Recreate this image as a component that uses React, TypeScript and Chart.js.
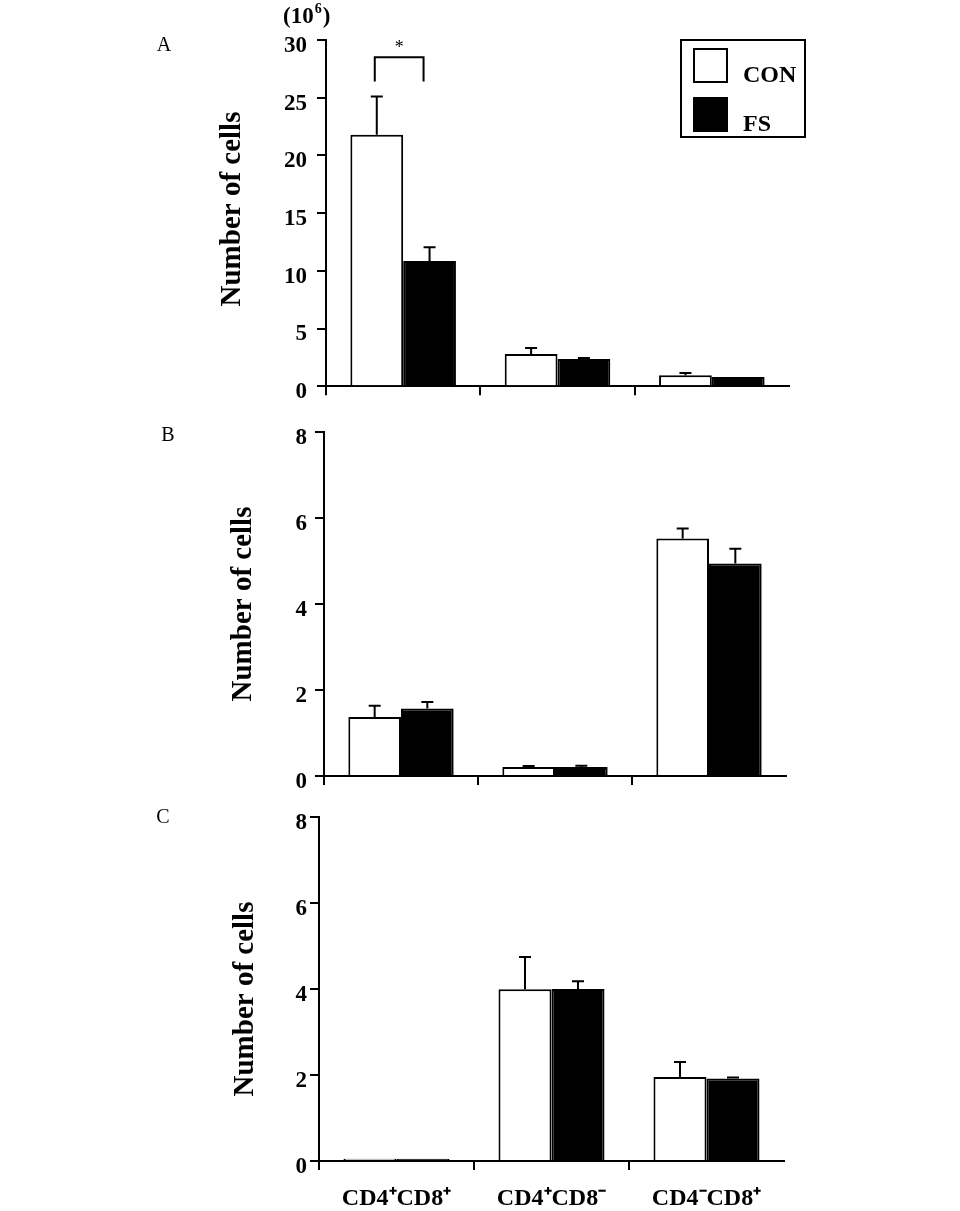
import React, { useEffect, useRef } from "react";
import { Chart, registerables } from "chart.js";

Chart.register(...registerables);

// ---------- data ----------
const categories = ["CD4⁺CD8⁺", "CD4⁺CD8⁻", "CD4⁻CD8⁺"];
const seriesNames = ["CON", "FS"];

const panelA_CON = [21.8, 2.8, 0.95];
const panelA_CON_err = [3.3, 0.5, 0.2];
const panelA_FS = [10.85, 2.35, 0.8];
const panelA_FS_err = [1.2, 0.1, 0.0];

const panelB_CON = [1.37, 0.21, 5.52];
const panelB_CON_err = [0.26, 0.02, 0.23];
const panelB_FS = [1.57, 0.21, 4.94];
const panelB_FS_err = [0.15, 0.03, 0.34];

const panelC_CON = [0.05, 3.99, 1.95];
const panelC_CON_err = [0.0, 0.75, 0.35];
const panelC_FS = [0.05, 4.0, 1.92];
const panelC_FS_err = [0.0, 0.18, 0.02];

const yMaxA = 30;
const yStepA = 5;
const yMaxBC = 8;
const yStepBC = 2;

const panelLetters = ["A", "B", "C"];
const yAxisTitle = "Number of cells";
const unitBase = "(10";
const unitExp = "6";
const unitClose = ")";
const sigMark = "*";
const sigTop = 28.5;
const sigLeg = 26.4;

// ---------- layout ----------
const FONT = '"Liberation Serif", "Times New Roman", serif';
const W = 960;

type Panel = {
  top: number;
  height: number;
  area: { left: number; right: number; top: number; bottom: number };
  con: number[];
  conErr: number[];
  fs: number[];
  fsErr: number[];
  yMax: number;
  yStep: number;
  tickPad: number;
  letter: string;
  letterPos: [number, number];
  titlePos: [number, number];
  showX: boolean;
  legend: boolean;
  sig: boolean;
};

const panels: Panel[] = [
  {
    top: 0,
    height: 410,
    area: { left: 326, right: 789, top: 40, bottom: 388 },
    con: panelA_CON,
    conErr: panelA_CON_err,
    fs: panelA_FS,
    fsErr: panelA_FS_err,
    yMax: yMaxA,
    yStep: yStepA,
    tickPad: 10,
    letter: panelLetters[0],
    letterPos: [164, 46],
    titlePos: [233, 209],
    showX: false,
    legend: true,
    sig: true,
  },
  {
    top: 410,
    height: 390,
    area: { left: 324, right: 786, top: 17, bottom: 366 },
    con: panelB_CON,
    conErr: panelB_CON_err,
    fs: panelB_FS,
    fsErr: panelB_FS_err,
    yMax: yMaxBC,
    yStep: yStepBC,
    tickPad: 8,
    letter: panelLetters[1],
    letterPos: [168, 26],
    titlePos: [244, 194],
    showX: false,
    legend: false,
    sig: false,
  },
  {
    top: 800,
    height: 411,
    area: { left: 319, right: 784, top: 13, bottom: 361 },
    con: panelC_CON,
    conErr: panelC_CON_err,
    fs: panelC_FS,
    fsErr: panelC_FS_err,
    yMax: yMaxBC,
    yStep: yStepBC,
    tickPad: 3,
    letter: panelLetters[2],
    letterPos: [163, 18],
    titlePos: [246, 199],
    showX: true,
    legend: false,
    sig: false,
  },
];

function makeConfig(p: Panel): any {
  const decor = {
    id: "decor" + p.letter,
    afterDatasetsDraw(chart: any) {
      const ctx = chart.ctx as CanvasRenderingContext2D;
      const yScale = chart.scales.y;
      const errs = [p.conErr, p.fsErr];
      const vals = [p.con, p.fs];
      ctx.save();
      ctx.strokeStyle = "#000";
      ctx.lineWidth = 2;
      // error bars
      for (let d = 0; d < 2; d++) {
        const meta = chart.getDatasetMeta(d);
        meta.data.forEach((el: any, j: number) => {
          const e = errs[d][j];
          if (!e) return;
          const yTop = yScale.getPixelForValue(vals[d][j] + e);
          const yBar = el.y;
          ctx.beginPath();
          ctx.moveTo(el.x, yBar);
          ctx.lineTo(el.x, yTop);
          ctx.moveTo(el.x - 6, yTop);
          ctx.lineTo(el.x + 6, yTop);
          ctx.stroke();
        });
      }
      // significance bracket
      if (p.sig) {
        const x1 = chart.getDatasetMeta(0).data[0].x - 2;
        const x2 = chart.getDatasetMeta(1).data[0].x - 6;
        const yT = yScale.getPixelForValue(sigTop);
        const yL = yScale.getPixelForValue(sigLeg);
        ctx.beginPath();
        ctx.moveTo(x1, yL);
        ctx.lineTo(x1, yT);
        ctx.lineTo(x2, yT);
        ctx.lineTo(x2, yL);
        ctx.stroke();
        ctx.fillStyle = "#000";
        ctx.font = `18px ${FONT}`;
        ctx.textAlign = "center";
        ctx.textBaseline = "middle";
        ctx.fillText(sigMark, (x1 + x2) / 2, yT - 9);
      }
      ctx.restore();
    },
    afterDraw(chart: any) {
      const ctx = chart.ctx as CanvasRenderingContext2D;
      ctx.save();
      ctx.fillStyle = "#000";
      // panel letter
      ctx.font = `20px ${FONT}`;
      ctx.textAlign = "center";
      ctx.textBaseline = "middle";
      ctx.fillText(p.letter, p.letterPos[0], p.letterPos[1]);
      // y axis title
      ctx.save();
      ctx.translate(p.titlePos[0], p.titlePos[1]);
      ctx.rotate(-Math.PI / 2);
      ctx.font = `bold 29px ${FONT}`;
      ctx.textAlign = "center";
      ctx.textBaseline = "middle";
      ctx.fillText(yAxisTitle, 0, 0);
      ctx.restore();
      if (p.legend) {
        // unit label
        ctx.font = `bold 23px ${FONT}`;
        ctx.textAlign = "left";
        ctx.textBaseline = "alphabetic";
        let x = 283;
        const by = 23;
        ctx.fillText(unitBase, x, by);
        x += ctx.measureText(unitBase).width;
        ctx.font = `bold 14px ${FONT}`;
        ctx.fillText(unitExp, x + 1, by - 10);
        x += ctx.measureText(unitExp).width + 2;
        ctx.font = `bold 23px ${FONT}`;
        ctx.fillText(unitClose, x, by);
        // legend box
        ctx.strokeStyle = "#000";
        ctx.lineWidth = 2;
        ctx.strokeRect(681, 40, 124, 97);
        const ds = chart.data.datasets;
        const rows = [
          { y: 49, ty: 82 },
          { y: 98, ty: 131 },
        ];
        ds.forEach((d: any, i: number) => {
          ctx.fillStyle = d.backgroundColor;
          ctx.fillRect(694, rows[i].y, 33, 33);
          ctx.strokeRect(694, rows[i].y, 33, 33);
          ctx.fillStyle = "#000";
          ctx.font = `bold 24px ${FONT}`;
          ctx.textAlign = "left";
          ctx.textBaseline = "alphabetic";
          ctx.fillText(d.label, 743, rows[i].ty);
        });
      }
      ctx.restore();
    },
  };

  const xHeight = p.height - p.area.bottom;

  return {
    type: "bar",
    data: {
      labels: categories,
      datasets: [
        {
          label: seriesNames[0],
          data: p.con,
          backgroundColor: "#ffffff",
          borderColor: "#000000",
          borderWidth: 2,
          categoryPercentage: 0.684,
          barPercentage: 1.0,
        },
        {
          label: seriesNames[1],
          data: p.fs,
          backgroundColor: "#000000",
          borderColor: "#000000",
          borderWidth: 2,
          categoryPercentage: 0.684,
          barPercentage: 1.0,
        },
      ],
    },
    options: {
      responsive: false,
      devicePixelRatio: 1,
      animation: false,
      layout: {
        padding: { top: p.area.top, right: W - p.area.right, left: 0, bottom: 0 },
      },
      plugins: {
        legend: { display: false },
        tooltip: { enabled: false },
        title: { display: false },
      },
      scales: {
        x: {
          z: 1,
          afterFit: (s: any) => {
            s.height = xHeight;
          },
          border: { display: true, color: "#000", width: 2 },
          grid: {
            offset: true,
            drawOnChartArea: false,
            drawTicks: true,
            tickLength: 9,
            lineWidth: 2,
            tickWidth: 2,
            color: "#000",
            tickColor: (c: any) => (c.type === "tick" ? "#000" : "rgba(0,0,0,0)"),
          },
          ticks: {
            display: p.showX,
            color: "#000",
            padding: 14,
            maxRotation: 0,
            font: { family: FONT, size: 24, weight: "bold" },
          },
        },
        y: {
          z: 1,
          min: 0,
          max: p.yMax,
          afterFit: (s: any) => {
            s.width = p.area.left;
          },
          border: { display: true, color: "#000", width: 2 },
          grid: {
            drawOnChartArea: false,
            drawTicks: true,
            tickLength: 9,
            lineWidth: 2,
            color: "#000",
          },
          ticks: {
            stepSize: p.yStep,
            color: "#000",
            padding: p.tickPad,
            labelOffset: 6,
            font: { family: FONT, size: 23, weight: "bold" },
          },
        },
      },
    },
    plugins: [decor],
  };
}

export default function App() {
  const refs = useRef<(HTMLCanvasElement | null)[]>([]);

  useEffect(() => {
    document.body.style.margin = "0";
    const charts = panels.map((p, i) => new Chart(refs.current[i] as HTMLCanvasElement, makeConfig(p)));
    return () => charts.forEach((c) => c.destroy());
  }, []);

  return (
    <div style={{ position: "relative", width: W, height: 1211, background: "#fff" }}>
      {panels.map((p, i) => (
        <canvas
          key={i}
          ref={(el) => {
            refs.current[i] = el;
          }}
          width={W}
          height={p.height}
          style={{ position: "absolute", left: 0, top: p.top, width: W, height: p.height }}
        />
      ))}
    </div>
  );
}
